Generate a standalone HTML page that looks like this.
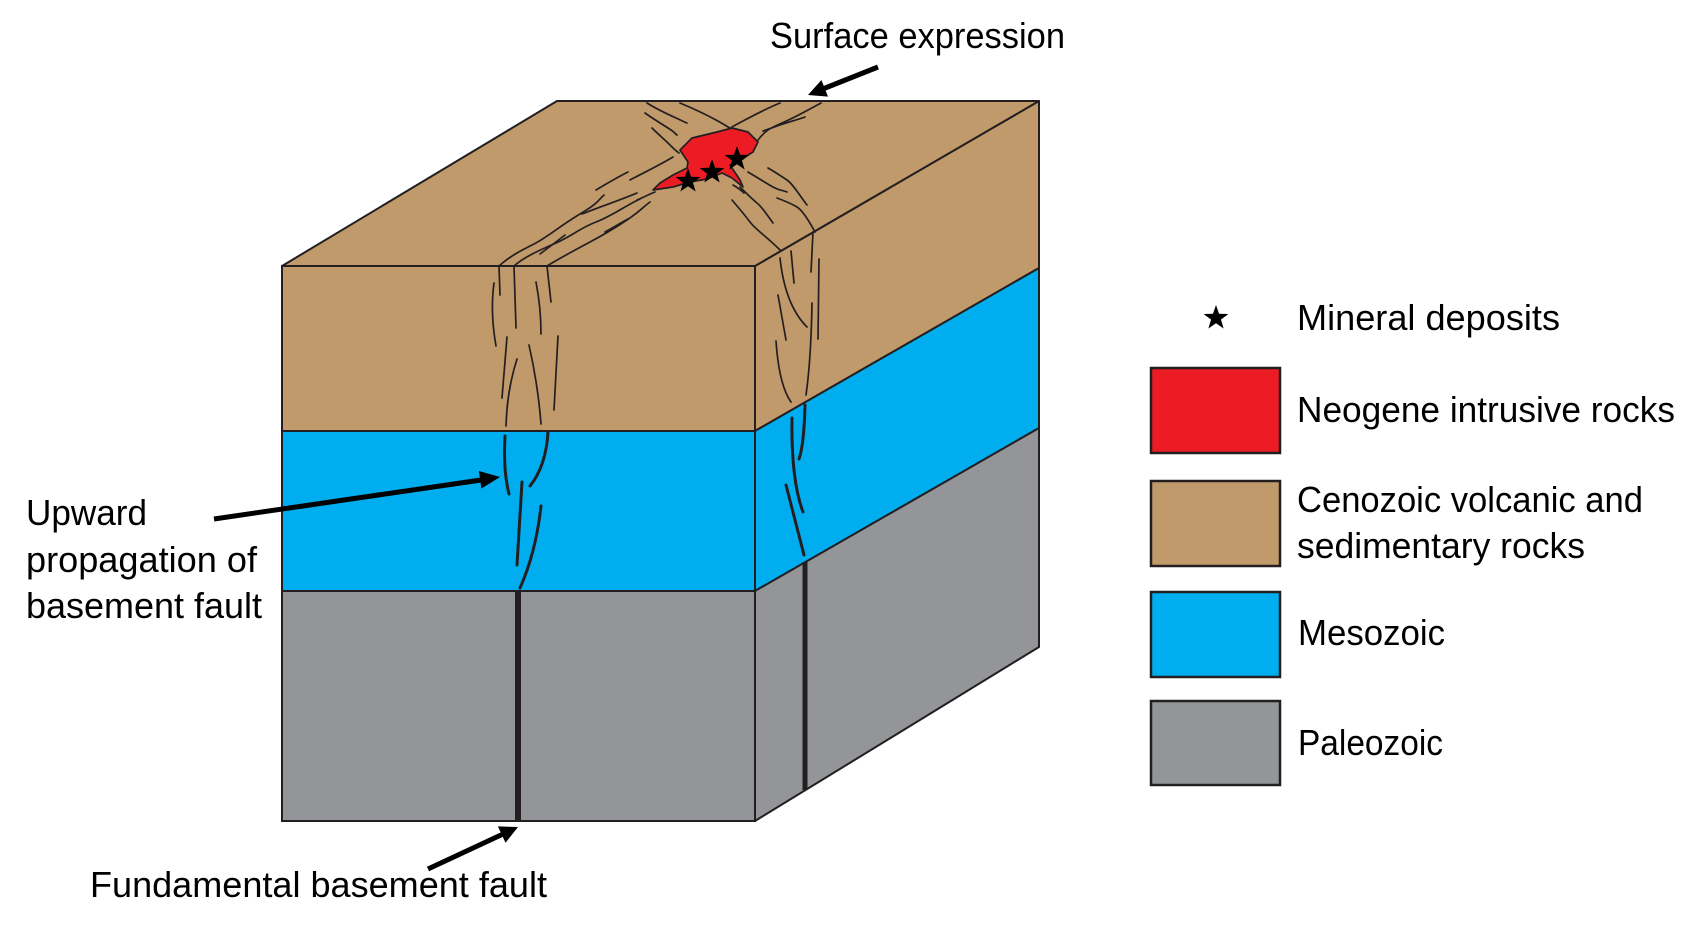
<!DOCTYPE html>
<html>
<head>
<meta charset="utf-8">
<style>
  html, body { margin: 0; padding: 0; background: #ffffff; }
  body { width: 1700px; height: 933px; overflow: hidden; }
  svg { display: block; }
  text { font-family: "Liberation Sans", "DejaVu Sans", sans-serif; font-size: 36px; fill: #000; }
</style>
</head>
<body>
<svg width="1700" height="933" viewBox="0 0 1700 933" xmlns="http://www.w3.org/2000/svg">
  <rect x="0" y="0" width="1700" height="933" fill="#ffffff"/>

  <!-- Block: front face -->
  <rect x="282" y="266" width="473" height="165" fill="#C19A6B" stroke="#231F20" stroke-width="2"/>
  <rect x="282" y="431" width="473" height="160" fill="#00AEEF" stroke="#231F20" stroke-width="2"/>
  <rect x="282" y="591" width="473" height="230" fill="#939598" stroke="#231F20" stroke-width="2"/>

  <!-- Right face -->
  <polygon points="755,266 1039,101 1039,268 755,431" fill="#C19A6B" stroke="#231F20" stroke-width="2" stroke-linejoin="round"/>
  <polygon points="755,431 1039,268 1039,428 755,591" fill="#00AEEF" stroke="#231F20" stroke-width="2" stroke-linejoin="round"/>
  <polygon points="755,591 1039,428 1039,647 755,821" fill="#939598" stroke="#231F20" stroke-width="2" stroke-linejoin="round"/>

  <!-- Top face -->
  <polygon points="282,266 557,101 1039,101 755,266" fill="#C19A6B" stroke="#231F20" stroke-width="2" stroke-linejoin="round"/>

  <!-- Thin fault lines on top face -->
  <g fill="none" stroke="#231F20" stroke-width="1.7" stroke-linecap="round" stroke-linejoin="round">
    <!-- Zone A: SW part -->
    <path d="M499,266 C510,256 522,250 534,244 S560,226 580,214 S598,200 604,195"/>
    <path d="M514,266 C524,257 540,250 556,243 S580,228 596,222 S625,206 640,199"/>
    <path d="M547,266 C560,258 575,250 590,242 S615,228 627,220 S642,208 650,202"/>
    <path d="M540,254 C548,248 556,242 565,235"/>
    <path d="M582,214 C600,207 620,200 637,193"/>
    <path d="M605,232 C616,226 622,222 628,219"/>
    <path d="M630,180 C643,173 658,166 673,157"/>
    <path d="M637,200 C644,197 650,194 655,192"/>
    <path d="M596,190 C606,184 618,177 628,172"/>
    <!-- Zone A: NE part -->
    <path d="M780,103 C770,107 760,112 743,121 S734,126 731,128"/>
    <path d="M821,103 C810,109 796,117 782,123 S765,131 758,140"/>
    <path d="M805,117 C797,120 788,122 780,125 S768,129 763,131"/>
    <!-- Zone B: NW part -->
    <path d="M647,103 C655,108 665,113 676,118 S684,122 687,123"/>
    <path d="M680,103 C692,108 705,114 716,120 S726,126 730,128"/>
    <path d="M645,113 C652,118 660,123 668,128 S674,133 677,135"/>
    <path d="M652,128 C658,134 665,140 670,145 S676,151 679,153"/>
    <!-- Zone B: SE part -->
    <path d="M748,172 C758,178 766,183 773,187 S783,190 787,192"/>
    <path d="M768,168 C775,172 781,176 787,180 S800,196 807,205"/>
    <path d="M777,198 C785,201 792,204 797,207 S808,219 815,232"/>
    <path d="M732,200 C738,207 744,214 750,222 S766,236 780,250"/>
    <path d="M740,187 C746,193 751,198 757,203 S767,215 773,223"/>
    <path d="M733,185 C738,188 742,191 744,193"/>
  </g>

  <!-- Intrusion -->
  <path d="M680,150 L692,138 L717,132 L732,128 L748,132 L758,142 L753,152 L740,160 L730,165 L740,180 L743,187 L732,178 L722,173 L707,179 L690,182 L673,187 L653,190 L660,183 L673,175 L687,168 L688,162 Z"
        fill="#ED1C24" stroke="#231F20" stroke-width="1.7" stroke-linejoin="round"/>

  <!-- Stars on intrusion -->
  <g fill="#000">
    <polygon transform="translate(737,159)" points="0,-13 3.06,-4.21 12.36,-4.02 4.95,1.61 7.64,10.52 0,5.2 -7.64,10.52 -4.95,1.61 -12.36,-4.02 -3.06,-4.21"/>
    <polygon transform="translate(712,172)" points="0,-13 3.06,-4.21 12.36,-4.02 4.95,1.61 7.64,10.52 0,5.2 -7.64,10.52 -4.95,1.61 -12.36,-4.02 -3.06,-4.21"/>
    <polygon transform="translate(688,181)" points="0,-13 3.06,-4.21 12.36,-4.02 4.95,1.61 7.64,10.52 0,5.2 -7.64,10.52 -4.95,1.61 -12.36,-4.02 -3.06,-4.21"/>
  </g>

  <!-- Front face brown thin fault lines -->
  <g fill="none" stroke="#231F20" stroke-width="1.7" stroke-linecap="round">
    <path d="M499,266 L500,295"/>
    <path d="M494,283 Q490,312 496,346"/>
    <path d="M514,266 L516,328"/>
    <path d="M536,282 Q541,308 541,334"/>
    <path d="M547,266 L551,302"/>
    <path d="M507,337 L502,398"/>
    <path d="M517,359 Q507,390 506,426"/>
    <path d="M529,345 Q538,385 541,424"/>
    <path d="M558,336 L554,410"/>
    <!-- Right face brown -->
    <path d="M780,258 Q785,305 807,327"/>
    <path d="M791,251 L794,283"/>
    <path d="M778,295 L786,340"/>
    <path d="M813,232 L811,272"/>
    <path d="M819,259 L818,339"/>
    <path d="M812,303 Q811,360 806,395"/>
    <path d="M776,341 Q779,385 791,402"/>
  </g>

  <!-- Blue layer thick fault lines -->
  <g fill="none" stroke="#231F20" stroke-width="3" stroke-linecap="round">
    <path d="M505,436 Q503,470 509,494"/>
    <path d="M548,432 Q546,466 530,486"/>
    <path d="M522,482 L517,565"/>
    <path d="M541,506 Q536,552 520,588"/>
    <path d="M805,405 Q804,445 799,459"/>
    <path d="M792,418 Q791,480 803,512"/>
    <path d="M786,485 L804,555"/>
  </g>

  <!-- Basement faults -->
  <line x1="518" y1="591" x2="518" y2="821" stroke="#231F20" stroke-width="6"/>
  <line x1="805" y1="562" x2="805" y2="790" stroke="#231F20" stroke-width="5"/>

  <!-- Arrows -->
  <g fill="#000" stroke="none">
    <line x1="878" y1="67" x2="824" y2="88.5" stroke="#000" stroke-width="5"/>
    <polygon points="808,95 828,96.6 821.4,80"/>
    <line x1="214" y1="519" x2="481" y2="480" stroke="#000" stroke-width="5"/>
    <polygon points="500,477 481.4,488.5 478.9,471"/>
    <line x1="428" y1="869" x2="502" y2="834.5" stroke="#000" stroke-width="5"/>
    <polygon points="518,827 505.5,842.8 497.9,826.4"/>
  </g>

  <!-- Labels -->
  <text x="770" y="48" textLength="295" lengthAdjust="spacingAndGlyphs">Surface expression</text>
  <text x="26" y="525" textLength="121" lengthAdjust="spacingAndGlyphs">Upward</text>
  <text x="26" y="572" textLength="231" lengthAdjust="spacingAndGlyphs">propagation of</text>
  <text x="26" y="618" textLength="236" lengthAdjust="spacingAndGlyphs">basement fault</text>
  <text x="90" y="897" textLength="457" lengthAdjust="spacingAndGlyphs">Fundamental basement fault</text>

  <!-- Legend -->
  <polygon transform="translate(1216,318)" fill="#000" points="0,-13 3.06,-4.21 12.36,-4.02 4.95,1.61 7.64,10.52 0,5.2 -7.64,10.52 -4.95,1.61 -12.36,-4.02 -3.06,-4.21"/>
  <text x="1297" y="330" textLength="263" lengthAdjust="spacingAndGlyphs">Mineral deposits</text>

  <rect x="1151" y="368" width="129" height="85" fill="#ED1C24" stroke="#231F20" stroke-width="2.5"/>
  <text x="1297" y="422" textLength="378" lengthAdjust="spacingAndGlyphs">Neogene intrusive rocks</text>

  <rect x="1151" y="481" width="129" height="85" fill="#C19A6B" stroke="#231F20" stroke-width="2.5"/>
  <text x="1297" y="512" textLength="346" lengthAdjust="spacingAndGlyphs">Cenozoic volcanic and</text>
  <text x="1297" y="558" textLength="288" lengthAdjust="spacingAndGlyphs">sedimentary rocks</text>

  <rect x="1151" y="592" width="129" height="85" fill="#00AEEF" stroke="#231F20" stroke-width="2.5"/>
  <text x="1298" y="645" textLength="147" lengthAdjust="spacingAndGlyphs">Mesozoic</text>

  <rect x="1151" y="701" width="129" height="84" fill="#939598" stroke="#231F20" stroke-width="2.5"/>
  <text x="1298" y="755" textLength="145" lengthAdjust="spacingAndGlyphs">Paleozoic</text>
</svg>
</body>
</html>
